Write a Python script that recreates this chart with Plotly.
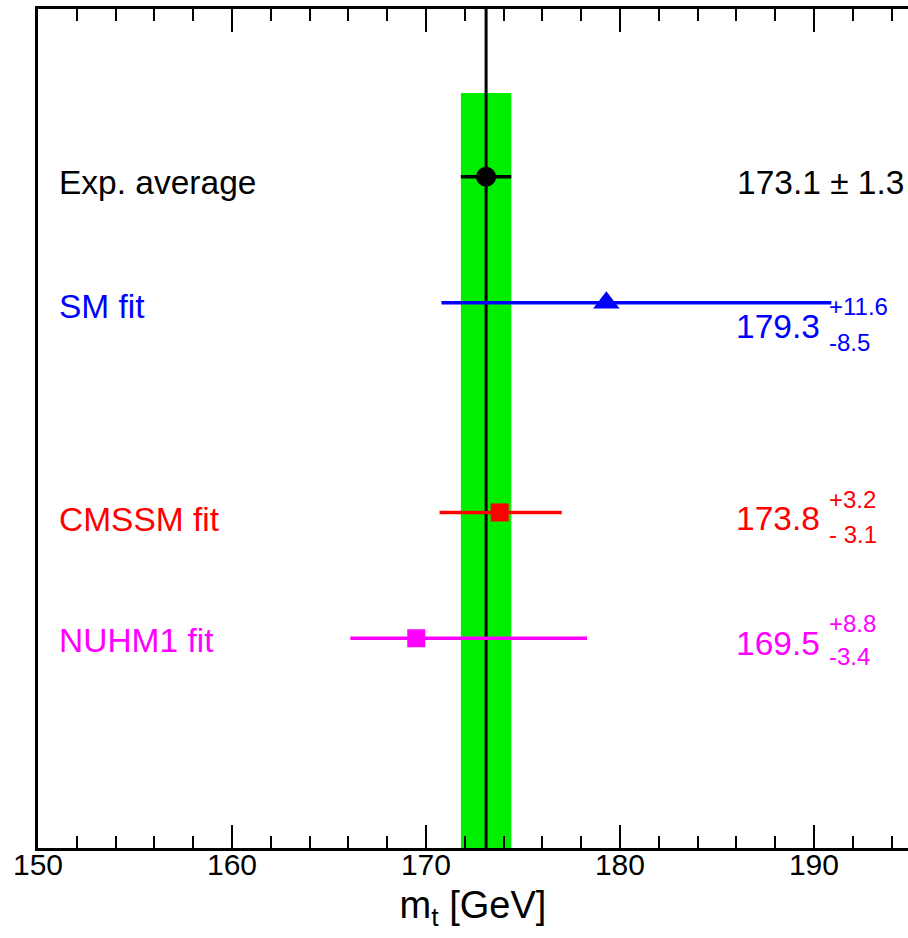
import plotly.graph_objects as go

# ---- data ----
labels = ["Exp. average", "SM fit", "CMSSM fit", "NUHM1 fit"]
central = [173.1, 179.3, 173.8, 169.5]
err_plus = [1.3, 11.6, 3.2, 8.8]
err_minus = [1.3, 8.5, 3.1, 3.4]
row_y = [8.0, 6.5, 4.0, 2.5]
colors = ["black", "#0000ff", "#ff0000", "#ff00ff"]
symbols = ["circle", "triangle-up", "square", "square"]
msizes = [20, 23, 18, 18]
band_top = 9.0
y_range = [0, 10]

FONT = "Liberation Sans, Arial, sans-serif"

fig = go.Figure()

# green band for experimental average
fig.add_shape(type="rect", x0=central[0] - err_minus[0], x1=central[0] + err_plus[0],
              y0=y_range[0], y1=band_top, xref="x", yref="y",
              fillcolor="#00ee00", line_width=0, layer="below")
# vertical line at experimental average
fig.add_trace(go.Scatter(x=[central[0], central[0]], y=y_range, mode="lines",
                         line=dict(color="black", width=3), showlegend=False, hoverinfo="skip"))

for i in range(len(labels)):
    fig.add_trace(go.Scatter(
        x=[central[i]], y=[row_y[i]], mode="markers",
        marker=dict(symbol=symbols[i], size=msizes[i], color=colors[i], line_width=0),
        error_x=dict(type="data", symmetric=False, array=[err_plus[i]],
                     arrayminus=[err_minus[i]], color=colors[i], thickness=3.5, width=0),
        showlegend=False, hoverinfo="skip"))

# label annotations
label_dy = [-0.07, -0.05, -0.08, -0.03]
for i in range(len(labels)):
    fig.add_annotation(x=151.0, y=row_y[i] + label_dy[i], text=labels[i], showarrow=False,
                       xanchor="left", yanchor="middle",
                       font=dict(family=FONT, size=33.5, color=colors[i]))

# value annotations
fig.add_annotation(x=194.75, y=7.93, text=f"{central[0]} \u00b1 {err_plus[0]}", showarrow=False,
                   xanchor="right", yanchor="middle",
                   font=dict(family=FONT, size=33.5, color=colors[0]))
val_dy = [None, -0.28, -0.07, -0.06]
plus_dy = [None, -0.05, 0.15, 0.17]
minus_dy = [None, -0.47, -0.26, -0.22]
minus_fmt = [None, "-{}", "- {}", "-{}"]
for i in range(1, 4):
    fig.add_annotation(x=190.4, y=row_y[i] + val_dy[i], text=f"{central[i]}", showarrow=False,
                       xanchor="right", yanchor="middle",
                       font=dict(family=FONT, size=33.5, color=colors[i]))
    fig.add_annotation(x=190.65, y=row_y[i] + plus_dy[i], text=f"+{err_plus[i]}", showarrow=False,
                       xanchor="left", yanchor="middle",
                       font=dict(family=FONT, size=24, color=colors[i]))
    fig.add_annotation(x=190.65, y=row_y[i] + minus_dy[i], text=minus_fmt[i].format(err_minus[i]),
                       showarrow=False, xanchor="left", yanchor="middle",
                       font=dict(family=FONT, size=24, color=colors[i]))

fig.update_layout(
    width=908, height=938,
    margin=dict(l=38, r=0, t=9, b=90),
    plot_bgcolor="white", paper_bgcolor="white",
    xaxis=dict(range=[150, 194.85], showgrid=False, zeroline=False,
               showline=True, linecolor="black", linewidth=3, mirror="ticks",
               ticks="inside", ticklen=23, tickwidth=2, tickcolor="black",
               dtick=10, tick0=150, ticklabelstandoff=-12,
               minor=dict(ticks="inside", ticklen=12, tickwidth=2, dtick=2, tickcolor="black", showgrid=False),
               tickfont=dict(family=FONT, size=30, color="black"),
               title=dict(text="m<sub>t</sub> [GeV]", font=dict(family=FONT, size=38, color="black"),
                          standoff=12)),
    yaxis=dict(range=y_range, showgrid=False, zeroline=False, showticklabels=False,
               showline=True, linecolor="black", linewidth=3, ticks=""),
)

fig.write_html("out.html")
